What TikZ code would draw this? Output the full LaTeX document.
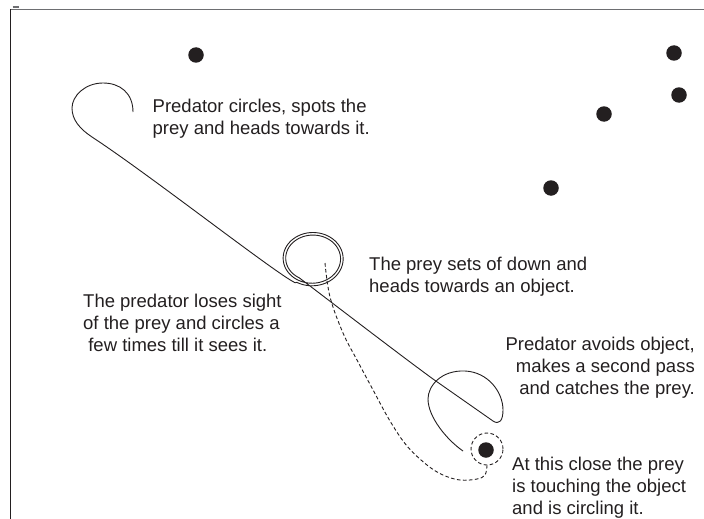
\documentclass[tikz,border=0pt]{standalone}
\usepackage{fontspec}
\setmainfont{Liberation Sans}
\definecolor{ink}{HTML}{231F20}
\definecolor{rule}{HTML}{6D6E71}
\begin{document}
\begin{tikzpicture}[x=1pt,y=-1pt,
  trail/.style={draw=ink, line width=0.9pt, line join=round},
  preytrail/.style={draw=ink, line width=0.9pt, dash pattern=on 3.6pt off 2.4pt},
  spot/.style={circle, fill=ink, inner sep=0pt, minimum size=15.5pt},
  ring/.style={circle, draw=ink, line width=0.9pt, dash pattern=on 3.6pt off 2.4pt, inner sep=0pt, minimum size=32pt},
  note/.style={font=\fontsize{18.5}{22}\selectfont, text=ink, inner sep=0pt}]
\useasboundingbox (0,0) rectangle (704,519);

% frame
\draw[rule, line width=1.1pt] (10,9.5) -- (704,9.5);
\draw[rule, line width=1.1pt] (12.5,7) -- (19,7);
\draw[ink, line width=1pt] (10,9) -- (10,519);

% food spots
\node[spot] (s1) at (196,55) {};
\node[spot] (s2) at (674,53) {};
\node[spot] (s3) at (679,95) {};
\node[spot] (s4) at (604,114) {};
\node[spot] (s5) at (551,188) {};

% the object and the prey circling it
\node[spot] (obj) at (486,450) {};
\node[ring] (objring) at (487,449) {};

% predator flight
\coordinate (hook) at (133,112);
\draw[trail] (hook)
  .. controls (133,93) and (120,83) .. (103,83)
  .. controls (85,83) and (72,96) .. (72,108)
  .. controls (72,120) and (80,129) .. (92,137)
  .. controls (150,175) and (275,273) .. (295.25,282.8)
  -- plot[domain=120:-600, samples=145, smooth, variable=\t]
     ({312.5+(31.5-(120-\t)/140)*cos(\t)}, {258.5+(27.5-(120-\t)/140)*sin(\t)})
  .. controls (318,292) and (400,355) .. (433,379)
  -- (493,421)
  .. controls (499,425) and (503,421) .. (503,410)
  .. controls (503,392) and (488,372) .. (465,371)
  .. controls (441,370) and (428,386) .. (428,399)
  .. controls (428,417) and (447,440) .. (463,451);

% prey flight
\coordinate (preystart) at (325,263);
\draw[preytrail] plot[smooth, tension=0.6] coordinates {
  (preystart) (330,297) (343,333) (357,360) (372,388) (390,421)
  (407,446) (427,465) (443,475) (460,480) (477,479) (485,475) (objring.south)};

% notes
\node[note, anchor=north west, align=left] (n1) at (152.5,98.5)
  {Predator circles, spots the\\prey and heads towards it.};
\node[note, anchor=north west, align=left] (n2) at (369,256.7)
  {The prey sets of down and\\heads towards an object.};
\node[note, anchor=north west, align=left] (n3) at (83,294)
  {The predator loses sight\\of the prey and circles a\\~few times till it sees it.};
\node[note, anchor=north east, align=right] (n4) at (695,336.7)
  {Predator avoids object,\\makes a second pass\\and catches the prey.};
\node[note, anchor=north west, align=left] (n5) at (512,457)
  {At this close the prey\\is touching the object\\and is circling it.};
\end{tikzpicture}
\end{document}
